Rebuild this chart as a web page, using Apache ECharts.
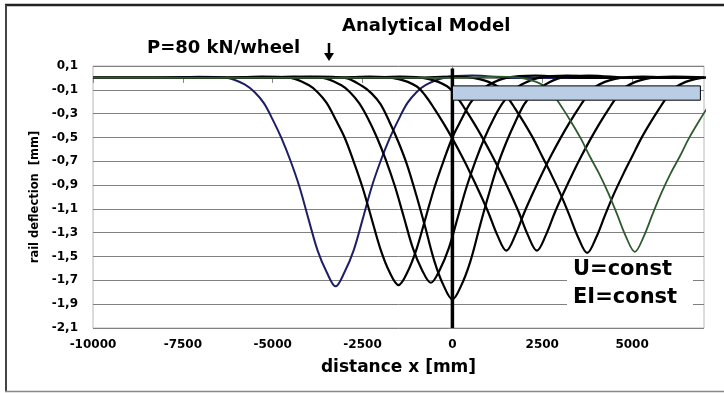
<!DOCTYPE html>
<html>
<head>
<meta charset="utf-8">
<script src="https://cdn.jsdelivr.net/npm/echarts@6/dist/echarts.min.js"></script>
<style>
  html, body { margin: 0; padding: 0; background: #fff; }
  #main { width: 724px; height: 393px; }
</style>
</head>
<body>
<div id="main"></div>
<script>
// deflection lines, [x mm, deflection mm]
const curveNavy = [[-10000, 0], [-8250, 0], [-7050, 0.01], [-6250, 0], [-5750, -0.06], [-5500, -0.12], [-5250, -0.21], [-5000, -0.35], [-4750, -0.51], [-4500, -0.70], [-4250, -0.92], [-4000, -1.19], [-3750, -1.45], [-3500, -1.63], [-3250, -1.75], [-3000, -1.63], [-2750, -1.45], [-2500, -1.19], [-2250, -0.92], [-2000, -0.70], [-1750, -0.51], [-1500, -0.35], [-1250, -0.21], [-1000, -0.12], [-750, -0.06], [-250, 0], [550, 0.02], [1750, 0], [7000, 0]];
const curveB1 = [[-10000, 0], [-6500, 0], [-5300, 0.01], [-4500, 0], [-4000, -0.06], [-3750, -0.12], [-3500, -0.21], [-3250, -0.35], [-3000, -0.50], [-2750, -0.70], [-2500, -0.92], [-2250, -1.18], [-2000, -1.44], [-1750, -1.63], [-1500, -1.74], [-1250, -1.63], [-1000, -1.44], [-750, -1.18], [-500, -0.92], [-250, -0.70], [0, -0.50], [250, -0.35], [500, -0.21], [750, -0.12], [1000, -0.06], [1500, 0], [2300, 0.02], [3500, 0], [7000, 0]];
const curveB2 = [[-10000, 0], [-5600, 0], [-4400, 0.01], [-3600, 0], [-3100, -0.06], [-2850, -0.12], [-2600, -0.21], [-2350, -0.34], [-2100, -0.50], [-1850, -0.69], [-1600, -0.91], [-1350, -1.17], [-1100, -1.43], [-850, -1.61], [-600, -1.72], [-350, -1.61], [-100, -1.43], [150, -1.17], [400, -0.91], [650, -0.69], [900, -0.50], [1150, -0.34], [1400, -0.21], [1650, -0.12], [1900, -0.06], [2400, 0], [3200, 0.02], [4400, 0], [7000, 0]];
const curveB3 = [[-10000, 0], [-5000, 0], [-3800, 0.01], [-3000, 0], [-2500, -0.07], [-2250, -0.13], [-2000, -0.22], [-1750, -0.37], [-1500, -0.54], [-1250, -0.74], [-1000, -0.99], [-750, -1.26], [-500, -1.54], [-250, -1.74], [0, -1.86], [250, -1.74], [500, -1.54], [750, -1.26], [1000, -0.99], [1250, -0.74], [1500, -0.54], [1750, -0.37], [2000, -0.22], [2250, -0.13], [2500, -0.07], [3000, 0], [3800, 0.02], [5000, 0], [7000, 0]];
const curveB4 = [[-10000, 0], [-3500, 0], [-2300, 0.01], [-1500, -0.01], [-1000, -0.07], [-750, -0.15], [-500, -0.26], [-250, -0.38], [0, -0.51], [250, -0.65], [500, -0.80], [750, -0.96], [1000, -1.13], [1250, -1.32], [1500, -1.45], [1750, -1.32], [2000, -1.13], [2250, -0.96], [2500, -0.80], [2750, -0.65], [3000, -0.51], [3250, -0.38], [3500, -0.26], [3750, -0.15], [4000, -0.07], [4500, -0.01], [5300, 0.01], [6500, 0], [7000, 0]];
const curveB5 = [[-10000, 0], [-2650, 0], [-1450, 0.01], [-650, -0.01], [-150, -0.07], [100, -0.15], [350, -0.26], [600, -0.38], [850, -0.51], [1100, -0.65], [1350, -0.80], [1600, -0.96], [1850, -1.13], [2100, -1.32], [2350, -1.45], [2600, -1.32], [2850, -1.13], [3100, -0.96], [3350, -0.80], [3600, -0.65], [3850, -0.51], [4100, -0.38], [4350, -0.26], [4600, -0.15], [4850, -0.07], [5350, -0.01], [6150, 0.01], [7350, 0]];
const curveB6 = [[-10000, 0], [-1250, 0], [-50, 0.01], [750, -0.01], [1250, -0.07], [1500, -0.15], [1750, -0.26], [2000, -0.38], [2250, -0.51], [2500, -0.66], [2750, -0.81], [3000, -0.97], [3250, -1.15], [3500, -1.34], [3750, -1.47], [4000, -1.34], [4250, -1.15], [4500, -0.97], [4750, -0.81], [5000, -0.66], [5250, -0.51], [5500, -0.38], [5750, -0.26], [6000, -0.15], [6250, -0.07], [6750, -0.01], [7550, 0.01], [8750, 0]];
const curveGreen = [[-10000, 0], [75, 0], [1275, 0.01], [2075, -0.01], [2575, -0.07], [2825, -0.15], [3075, -0.26], [3325, -0.38], [3575, -0.51], [3825, -0.66], [4075, -0.80], [4325, -0.96], [4575, -1.14], [4825, -1.33], [5075, -1.46], [5325, -1.33], [5575, -1.14], [5825, -0.96], [6075, -0.80], [6325, -0.66], [6575, -0.51], [6825, -0.38], [7075, -0.26], [7325, -0.15], [7575, -0.07]];

// reference line at x = 0 and the rail bar (x0, yTop, x1, yBottom)
const zeroLine = [[0, -2.1], [0, 0.08]];
const railBar = [[0, -0.067, 6900, -0.187]];

const FONT = 'DejaVu Sans';

let chart = echarts.init(document.getElementById('main'));

function curve(data, color, width) {
    return {
        type: 'line',
        data: data,
        symbol: 'none',
        smooth: 0.35,
        lineStyle: { color: color, width: width },
        z: 3
    };
}

let option = {
    animation: false,
    backgroundColor: '#fff',
    grid: {
        left: 93, right: 20, top: 66, bottom: 65,
        show: true, borderColor: '#b8b8b8', borderWidth: 1
    },
    xAxis: {
        type: 'value',
        min: -10000, max: 7000, interval: 2500,
        name: 'distance x [mm]',
        nameLocation: 'middle',
        nameGap: 31,
        nameTextStyle: { fontFamily: FONT, fontWeight: 'bold', fontSize: 17, color: '#000' },
        axisLine: { lineStyle: { color: '#888' } },
        axisTick: { length: 5, lineStyle: { color: '#888' } },
        axisLabel: {
            showMaxLabel: false,
            margin: 11,
            fontFamily: FONT, fontWeight: 'bold', fontSize: 12, color: '#000',
            formatter: function (v) {
                return String(Math.round(v));
            }
        },
        splitLine: { show: false }
    },
    yAxis: {
        type: 'value',
        min: -2.1, max: 0.1, interval: 0.2,
        name: 'rail deflection  [mm]',
        nameLocation: 'middle',
        nameGap: 50,
        nameTextStyle: { fontFamily: FONT, fontWeight: 'bold', fontSize: 11.5, color: '#000' },
        axisLine: { show: true, lineStyle: { color: '#888' } },
        axisTick: { show: true, length: 5, lineStyle: { color: '#888' } },
        axisLabel: {
            margin: 15,
            fontFamily: FONT, fontWeight: 'bold', fontSize: 12, color: '#000',
            formatter: function (v) {
                return v.toFixed(1).replace('.', ',');
            }
        },
        splitLine: { show: true, lineStyle: { color: '#808080', width: 1 } }
    },
    series: [
        curve(curveNavy, '#1e1e66', 2),
        curve(curveB1, '#000', 2.2),
        curve(curveB2, '#000', 2.2),
        curve(curveB3, '#000', 2.2),
        curve(curveB4, '#000', 2.2),
        curve(curveB5, '#000', 2.2),
        curve(curveB6, '#000', 2.2),
        curve(curveGreen, '#2f5a2f', 1.8),
        {
            type: 'line',
            data: zeroLine,
            symbol: 'none',
            lineStyle: { color: '#000', width: 3.5 },
            clip: false,
            z: 5
        },
        {
            type: 'custom',
            data: railBar,
            z: 10,
            renderItem: function (params, api) {
                let p0 = api.coord([api.value(0), api.value(1)]);
                let p1 = api.coord([api.value(2), api.value(3)]);
                return {
                    type: 'rect',
                    shape: { x: p0[0], y: p0[1], width: p1[0] - p0[0], height: p1[1] - p0[1] },
                    style: { fill: '#b9cde5', stroke: '#000', lineWidth: 1 }
                };
            }
        }
    ],
    graphic: [
        // outer frame
        { type: 'line', shape: { x1: 5, y1: 5, x2: 724, y2: 5 }, style: { stroke: '#222', lineWidth: 2.5 } },
        { type: 'line', shape: { x1: 6, y1: 5, x2: 6, y2: 392 }, style: { stroke: '#444', lineWidth: 2 } },
        { type: 'line', shape: { x1: 5, y1: 391.5, x2: 724, y2: 391.5 }, style: { stroke: '#888', lineWidth: 1.5 } },
        // titles
        {
            type: 'text', left: 342, top: 17, z: 20,
            style: { text: 'Analytical Model', font: 'bold 18px "DejaVu Sans"', fill: '#000' }
        },
        {
            type: 'text', left: 147, top: 39, z: 20,
            style: { text: 'P=80 kN/wheel', font: 'bold 18px "DejaVu Sans"', fill: '#000' }
        },
        // arrow
        { type: 'line', z: 20, shape: { x1: 329, y1: 43, x2: 329, y2: 55 }, style: { stroke: '#000', lineWidth: 2.5 } },
        { type: 'polygon', z: 20, shape: { points: [[324, 53], [334, 53], [329, 61]] }, style: { fill: '#000' } },
        // note box
        {
            type: 'rect', z: 20,
            shape: { x: 567, y: 261, width: 126, height: 52 },
            style: { fill: '#fff' }
        },
        {
            type: 'text', left: 573, top: 259, z: 21,
            style: { text: 'U=const', font: 'bold 21px "DejaVu Sans"', fill: '#000' }
        },
        {
            type: 'text', left: 573, top: 287, z: 21,
            style: { text: 'EI=const', font: 'bold 21px "DejaVu Sans"', fill: '#000' }
        }
    ]
};

chart.setOption(option);
</script>
</body>
</html>
